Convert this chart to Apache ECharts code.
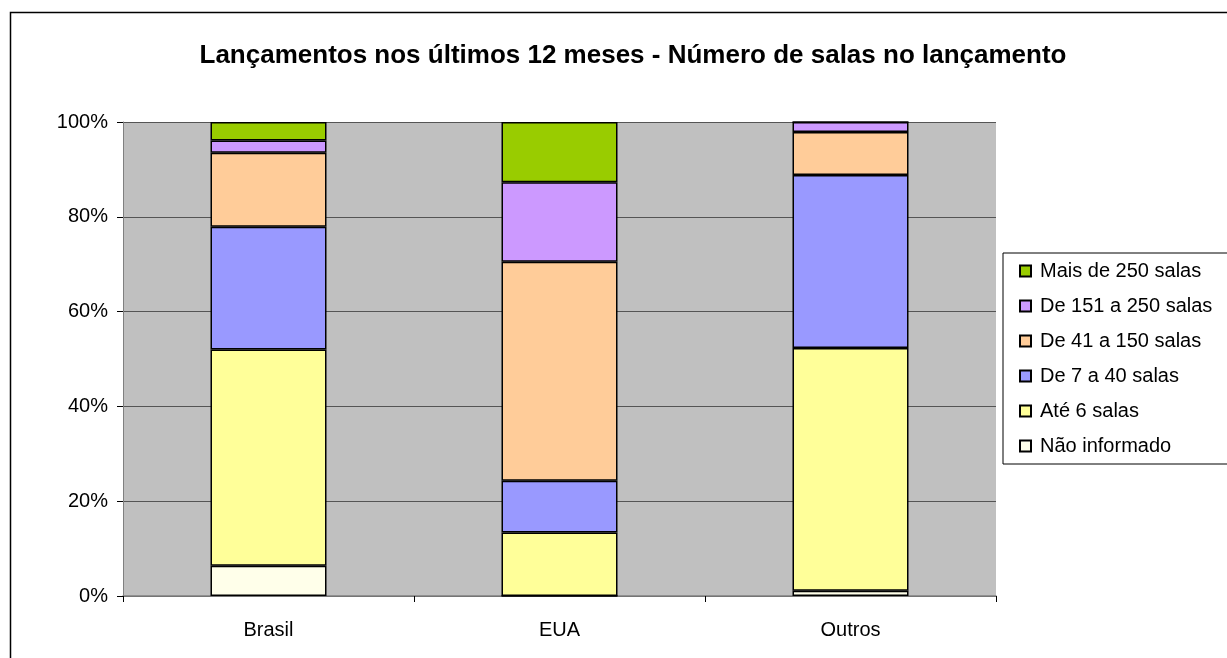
<!DOCTYPE html>
<html>
<head>
<meta charset="utf-8">
<script src="https://cdn.jsdelivr.net/npm/echarts@6/dist/echarts.min.js"></script>
<style>html,body{margin:0;padding:0;background:#fff;}#c{width:1227px;height:658px;}</style>
</head>
<body>
<div id="c"></div>
<script>
const categories = ['Brasil', 'EUA', 'Outros'];
const naoInformado = [6.4, 0, 1.1];
const ate6 = [45.6, 13.4, 51.2];
const de7a40 = [25.9, 10.9, 36.5];
const de41a150 = [15.6, 46.2, 9.1];
const de151a250 = [2.6, 16.8, 2.1];
const mais250 = [3.9, 12.7, 0];
const yTicks = ['0%', '20%', '40%', '60%', '80%', '100%'];

const seriesDefs = [
  {name: 'Não informado', data: naoInformado, color: '#FFFFEA'},
  {name: 'Até 6 salas', data: ate6, color: '#FFFF99'},
  {name: 'De 7 a 40 salas', data: de7a40, color: '#9999FF'},
  {name: 'De 41 a 150 salas', data: de41a150, color: '#FFCC99'},
  {name: 'De 151 a 250 salas', data: de151a250, color: '#CC99FF'},
  {name: 'Mais de 250 salas', data: mais250, color: '#99CC00'}
];

const chart = echarts.init(document.getElementById('c'));
chart.setOption({
  animation: false,
  backgroundColor: '#fff',
  title: {
    text: 'Lançamentos nos últimos 12 meses - Número de salas no lançamento',
    left: 628, textAlign: 'center', top: 38,
    textStyle: {fontFamily: 'Liberation Sans', fontSize: 26, fontWeight: 'bold', color: '#000'}
  },
  graphic: [{
    type: 'rect', shape: {x: 10.5, y: 12.5, width: 1230, height: 660},
    style: {fill: 'none', stroke: '#000', lineWidth: 1.5}, silent: true, z: -1
  }],
  legend: {
    left: 1003, top: 253,
    orient: 'vertical',
    icon: 'rect',
    data: seriesDefs.map(s => s.name).reverse(),
    itemWidth: 11, itemHeight: 11, itemGap: 11,
    padding: [6, 60, 6, 16],
    borderColor: '#000', borderWidth: 1,
    backgroundColor: '#fff',
    textStyle: {fontFamily: 'Liberation Sans', fontSize: 20, color: '#000', lineHeight: 24, padding: [0,0,0,4]}
  },
  grid: {left: 123, top: 122, width: 873, height: 474, backgroundColor: '#C0C0C0', show: true, borderWidth: 0},
  xAxis: {
    type: 'category', data: categories,
    axisLine: {lineStyle: {color: '#808080', width: 1.5}},
    axisTick: {show: true, length: 6, lineStyle: {color: '#000'}},
    axisLabel: {fontFamily: 'Liberation Sans', fontSize: 20, color: '#000', margin: 24}
  },
  yAxis: {
    type: 'value', min: 0, max: 100, interval: 20,
    axisLine: {show: true, lineStyle: {color: '#808080'}},
    axisTick: {show: true, length: 6, lineStyle: {color: '#000'}},
    axisLabel: {fontFamily: 'Liberation Sans', fontSize: 20, color: '#000', margin: 15,
      formatter: v => yTicks[Math.round(v / 20)]},
    splitLine: {show: true, lineStyle: {color: '#555', width: 1}}
  },
  series: seriesDefs.map(s => ({
    name: s.name, type: 'bar', stack: 'total', data: s.data,
    barWidth: 116,
    itemStyle: {color: s.color, borderColor: '#000', borderWidth: 1.5}
  }))
});
</script>
</body>
</html>
